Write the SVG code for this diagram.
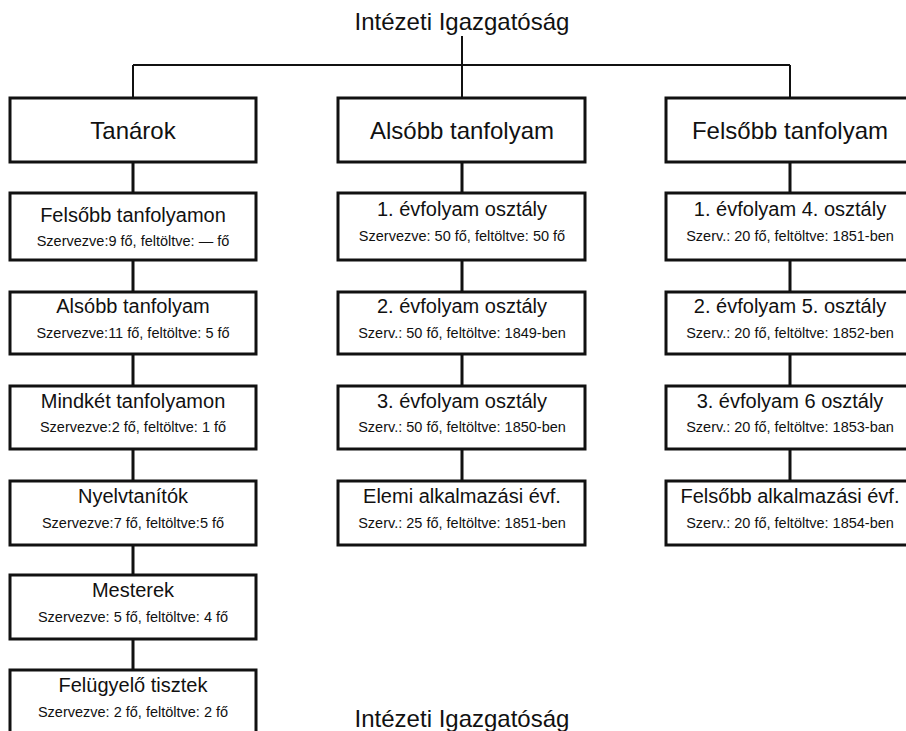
<svg xmlns="http://www.w3.org/2000/svg" width="906" height="731" viewBox="0 0 906 731">
<style>
text{font-family:"Liberation Sans",Arial,sans-serif;fill:#111;text-anchor:middle}
.t0{font-size:24px}
.t1{font-size:24px}
.t2{font-size:20px}
.t3{font-size:14.5px}
.box{fill:#fff;stroke:#111;stroke-width:3}
.thin{stroke:#111;stroke-width:2;fill:none}
.thick{stroke:#111;stroke-width:3;fill:none}
</style>
<rect width="906" height="731" fill="#fff"/>
<g id="connectors">
<path class="thin" d="M462 36V65M133 65H790M133 65V98M462 65V98M790 65V98"/>
<path class="thick" d="M133 162V193M133 260V292M133 354V386M133 449V481M133 545V575M133 639V670"/>
<path class="thick" d="M462 162V193M462 260V292M462 354V386M462 449V481"/>
<path class="thick" d="M790 162V193M790 260V292M790 354V386M790 449V481"/>
</g>
<g id="root"><text class="t0" x="462" y="30">Intézeti Igazgatóság</text></g>
<g id="tanarok"><rect class="box" x="10" y="98" width="246" height="64"/><text class="t1" x="133" y="139">Tanárok</text></g>
<g id="also"><rect class="box" x="338" y="98" width="247" height="64"/><text class="t1" x="462" y="139">Alsóbb tanfolyam</text></g>
<g id="felso"><rect class="box" x="666" y="98" width="248" height="64"/><text class="t1" x="790" y="139">Felsőbb tanfolyam</text></g>

<g id="c1r1"><rect class="box" x="10" y="193" width="246" height="67"/><text class="t2" x="133" y="222">Felsőbb tanfolyamon</text><text class="t3" x="133" y="246">Szervezve:9 fő, feltöltve: — fő</text></g>
<g id="c1r2"><rect class="box" x="10" y="292" width="246" height="62"/><text class="t2" x="133" y="313">Alsóbb tanfolyam</text><text class="t3" x="133" y="338">Szervezve:11 fő, feltöltve: 5 fő</text></g>
<g id="c1r3"><rect class="box" x="10" y="386" width="246" height="63"/><text class="t2" x="133" y="408">Mindkét tanfolyamon</text><text class="t3" x="133" y="432">Szervezve:2 fő, feltöltve: 1 fő</text></g>
<g id="c1r4"><rect class="box" x="10" y="481" width="246" height="64"/><text class="t2" x="133" y="503">Nyelvtanítók</text><text class="t3" x="133" y="528">Szervezve:7 fő, feltöltve:5 fő</text></g>
<g id="c1r5"><rect class="box" x="10" y="575" width="246" height="64"/><text class="t2" x="133" y="597">Mesterek</text><text class="t3" x="133" y="622">Szervezve: 5 fő, feltöltve: 4 fő</text></g>
<g id="c1r6"><rect class="box" x="10" y="670" width="246" height="70"/><text class="t2" x="133" y="692">Felügyelő tisztek</text><text class="t3" x="133" y="717">Szervezve: 2 fő, feltöltve: 2 fő</text></g>

<g id="c2r1"><rect class="box" x="338" y="193" width="247" height="67"/><text class="t2" x="462" y="216">1. évfolyam osztály</text><text class="t3" x="462" y="241">Szervezve: 50 fő, feltöltve: 50 fő</text></g>
<g id="c2r2"><rect class="box" x="338" y="292" width="247" height="62"/><text class="t2" x="462" y="313">2. évfolyam osztály</text><text class="t3" x="462" y="338">Szerv.: 50 fő, feltöltve: 1849-ben</text></g>
<g id="c2r3"><rect class="box" x="338" y="386" width="247" height="63"/><text class="t2" x="462" y="408">3. évfolyam osztály</text><text class="t3" x="462" y="432">Szerv.: 50 fő, feltöltve: 1850-ben</text></g>
<g id="c2r4"><rect class="box" x="338" y="481" width="247" height="64"/><text class="t2" x="462" y="503">Elemi alkalmazási évf.</text><text class="t3" x="462" y="528">Szerv.: 25 fő, feltöltve: 1851-ben</text></g>

<g id="c3r1"><rect class="box" x="666" y="193" width="248" height="67"/><text class="t2" x="790" y="216">1. évfolyam 4. osztály</text><text class="t3" x="790" y="241">Szerv.: 20 fő, feltöltve: 1851-ben</text></g>
<g id="c3r2"><rect class="box" x="666" y="292" width="248" height="62"/><text class="t2" x="790" y="313">2. évfolyam 5. osztály</text><text class="t3" x="790" y="338">Szerv.: 20 fő, feltöltve: 1852-ben</text></g>
<g id="c3r3"><rect class="box" x="666" y="386" width="248" height="63"/><text class="t2" x="790" y="408">3. évfolyam 6 osztály</text><text class="t3" x="790" y="432">Szerv.: 20 fő, feltöltve: 1853-ban</text></g>
<g id="c3r4"><rect class="box" x="666" y="481" width="248" height="64"/><text class="t2" x="790" y="503">Felsőbb alkalmazási évf.</text><text class="t3" x="790" y="528">Szerv.: 20 fő, feltöltve: 1854-ben</text></g>

<g id="footer"><text class="t0" x="462" y="727">Intézeti Igazgatóság</text></g>
</svg>
